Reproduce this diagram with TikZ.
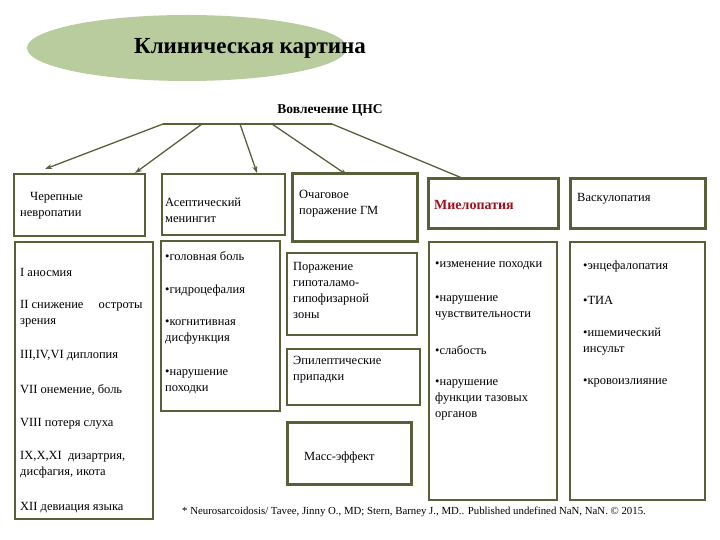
\documentclass[tikz,border=0pt]{standalone}
\usepackage{fontspec}
\setmainfont{Liberation Serif}
\usetikzlibrary{arrows.meta}
\definecolor{olive}{HTML}{5A5F3A}
\definecolor{ellg}{HTML}{B8CC9E}
\definecolor{myred}{HTML}{A0101A}
\begin{document}
\begin{tikzpicture}[x=1pt,y=-1pt,
 bx/.style={draw=olive,line width=2pt},
 tbx/.style={draw=olive,line width=3pt},
 txt/.style={anchor=west,font=\fontsize{12.5}{16}\selectfont,align=left,inner sep=0pt},
 arr/.style={draw=olive,line width=1.3pt,-{Stealth[length=7pt,width=5pt]}}]
\useasboundingbox (0,0) rectangle (720,540);
\fill[ellg] (187,48) ellipse [x radius=160, y radius=33];
\node[font=\bfseries\fontsize{23}{26}\selectfont] (title) at (250,48) {Клиническая картина};
\node[font=\bfseries\fontsize{13.5}{15}\selectfont] (cns) at (330,110) {Вовлечение ЦНС};
\coordinate (l0) at (163,124); \coordinate (l4) at (332,124);
\draw[olive,line width=1.3pt] (l0) -- (l4);
\coordinate (s1) at (202,124); \coordinate (s2) at (240,124); \coordinate (s3) at (272,124);
% boxes
\draw[bx] (14,174) rectangle (145,236); \coordinate (t0) at (45,169);
\draw[bx] (15,242) rectangle (153,519);
\draw[bx] (162,174) rectangle (285,235); \coordinate (t1) at (135,173);
\draw[bx] (161,241) rectangle (280,411);
\draw[tbx] (292,174) rectangle (417,241); \coordinate (t2) at (257,173);
\draw[bx] (287,253) rectangle (417,335);
\draw[bx] (287,349) rectangle (420,405);
\draw[tbx] (287,422) rectangle (411,484);
\draw[tbx] (428,179) rectangle (558,229); \coordinate (t3) at (347,175);
\draw[bx] (429,242) rectangle (557,500);
\draw[tbx] (570,179) rectangle (705,229); \coordinate (t4) at (462,178);
\draw[bx] (570,242) rectangle (705,500);
\draw[arr] (l0) -- (t0);
\draw[arr] (s1) -- (t1);
\draw[arr] (s2) -- (t2);
\draw[arr] (s3) -- (t3);
\draw[olive,line width=1.3pt] (l4) -- (t4);
% texts
\node[txt] (a) at (20,206) {\hspace{10pt}Черепные\\невропатии};
\node[txt] (a1) at (20,272) {I аносмия};
\node[txt] (a2) at (20,314) {II снижение\hspace{12pt} остроты\\зрения};
\node[txt] (a3) at (20,356) {III,IV,VI диплопия};
\node[txt] (a4) at (20,390) {VII онемение, боль};
\node[txt] (a5) at (20,424) {VIII потеря слуха};
\node[txt] (a6) at (20,465) {IX,X,XI\ \ дизартрия,\\дисфагия, икота};
\node[txt] (a7) at (20,508) {XII девиация языка};
\node[txt] (b) at (165,210) {Асептический\\менингит};
\node[txt] (b1) at (165,256) {•головная боль};
\node[txt] (b2) at (165,290) {•гидроцефалия};
\node[txt] (b3) at (165,332) {•когнитивная\\дисфункция};
\node[txt] (b4) at (165,382) {•нарушение\\походки};
\node[txt] (c) at (299,204) {Очаговое\\поражение ГМ};
\node[txt] (c1) at (293,290) {Поражение\\гипоталамо-\\гипофизарной\\зоны};
\node[txt] (c2) at (293,370) {Эпилептические\\припадки};
\node[txt] (c3) at (304,457) {Масс-эффект};
\node[txt,font=\bfseries\fontsize{14}{15}\selectfont,text=myred] (d) at (434,205) {Миелопатия};
\node[txt] (d1) at (435,266) {•изменение походки};
\node[txt] (d2) at (435,308) {•нарушение\\чувствительности};
\node[txt] (d3) at (435,350) {•слабость};
\node[txt] (d4) at (435,400) {•нарушение\\функции тазовых\\органов};
\node[txt] (e) at (577,199) {Васкулопатия};
\node[txt] (e1) at (583,266) {•энцефалопатия};
\node[txt] (e2) at (583,300) {•ТИА};
\node[txt] (e3) at (583,342) {•ишемический\\инсульт};
\node[txt] (e4) at (583,383) {•кровоизлияние};
\node[txt,font=\fontsize{10.8}{12}\selectfont] (f) at (182,512) {* Neurosarcoidosis/ Tavee, Jinny O., MD; Stern, Barney J., MD.. Published undefined NaN, NaN. © 2015.};
\end{tikzpicture}
\end{document}
